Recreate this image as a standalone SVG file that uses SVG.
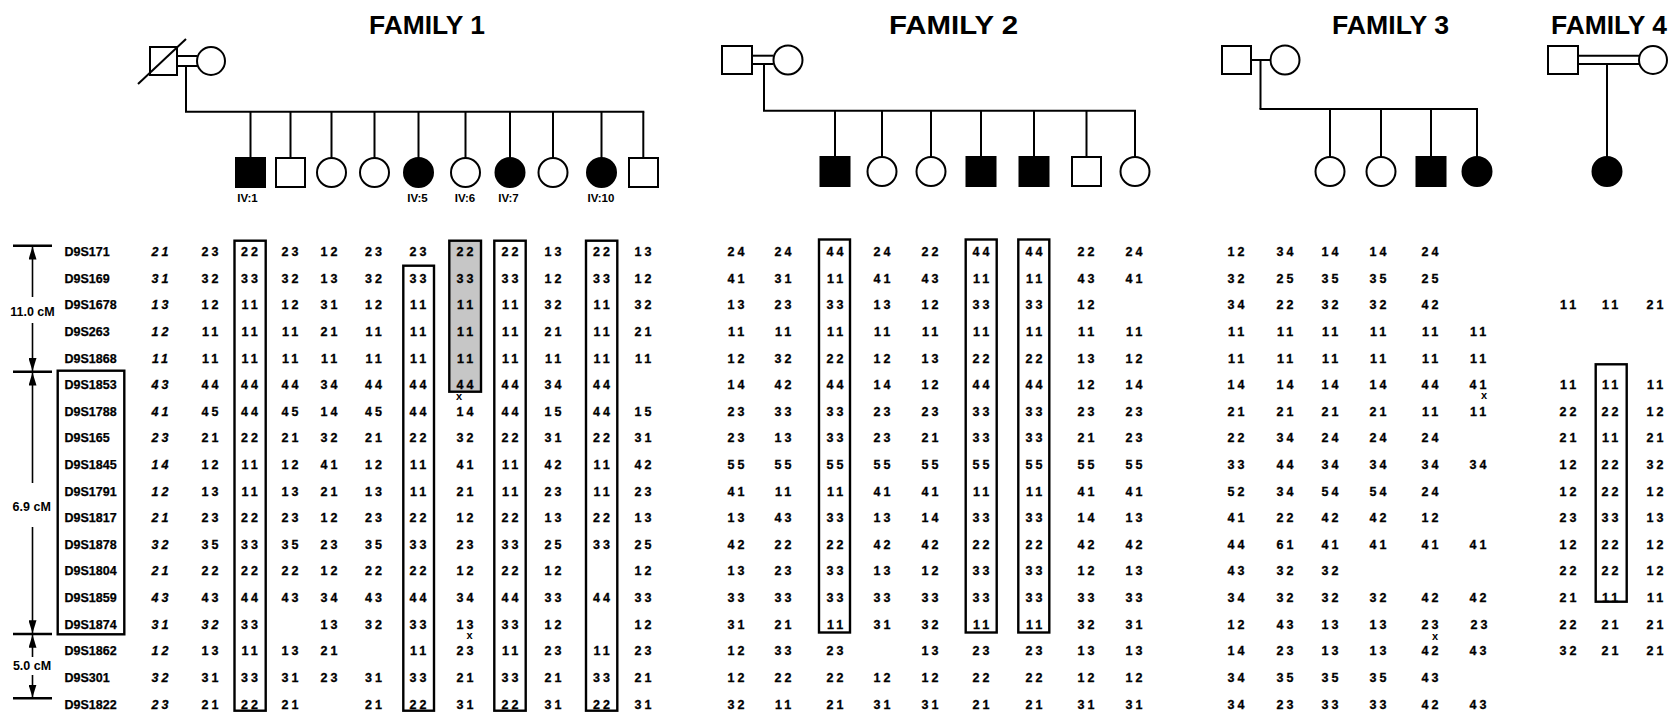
<svg xmlns="http://www.w3.org/2000/svg" width="1671" height="713" viewBox="0 0 1671 713">
<style>
.ln{stroke:#000;stroke-width:2;fill:none}
.sym{stroke:#000;stroke-width:2;fill:#fff}
.aff{stroke:#000;stroke-width:2;fill:#000}
.box{fill:none;stroke:#000;stroke-width:2.4}
.tick{stroke:#000;stroke-width:2.4}
.arw{stroke:#000;stroke-width:1.6;fill:none}
.t{font-family:"Liberation Sans",Arial,sans-serif;font-weight:bold;fill:#000}
.title{font-size:25px;white-space:pre}
.d{font-size:12.5px;letter-spacing:3px;text-anchor:middle;stroke:#000;stroke-width:0.3}
.lab{font-size:12.5px;stroke:#000;stroke-width:0.25}
.cm{font-size:12.5px;text-anchor:middle}
.iv{font-size:11.5px;text-anchor:middle}
.i{font-style:italic}
.x{font-size:11px;text-anchor:middle}
</style>
<defs>
<marker id="ah" viewBox="0 0 13 8" refX="13" refY="4" markerWidth="13" markerHeight="8" markerUnits="userSpaceOnUse" orient="auto">
<path d="M0,0 L13,4 L0,8 z" fill="#000"/>
</marker>
</defs>
<rect width="1671" height="713" fill="#fff"/>

<g id="titles" class="t title">
<text x="369" y="33.5" textLength="116" lengthAdjust="spacingAndGlyphs">FAMILY 1</text>
<text x="889" y="33.5" textLength="129" lengthAdjust="spacingAndGlyphs">FAMILY  2</text>
<text x="1332" y="33.5" textLength="117" lengthAdjust="spacingAndGlyphs">FAMILY 3</text>
<text x="1551" y="33.5" textLength="116" lengthAdjust="spacingAndGlyphs">FAMILY 4</text>
</g>

<g id="connectors" class="ln">
<line x1="177" y1="56" x2="197" y2="56"/>
<line x1="177" y1="66" x2="197" y2="66"/>
<line x1="186" y1="66" x2="186" y2="111.7"/>
<line x1="185" y1="111.7" x2="644.3" y2="111.7"/>
<line x1="250.5" y1="111.7" x2="250.5" y2="158"/>
<line x1="290.5" y1="111.7" x2="290.5" y2="158"/>
<line x1="331.5" y1="111.7" x2="331.5" y2="158"/>
<line x1="374.5" y1="111.7" x2="374.5" y2="158"/>
<line x1="418.5" y1="111.7" x2="418.5" y2="158"/>
<line x1="465.5" y1="111.7" x2="465.5" y2="158"/>
<line x1="510" y1="111.7" x2="510" y2="158"/>
<line x1="553" y1="111.7" x2="553" y2="158"/>
<line x1="601.5" y1="111.7" x2="601.5" y2="158"/>
<line x1="643.3" y1="111.7" x2="643.3" y2="158"/>
<line x1="752" y1="55.7" x2="773.5" y2="55.7"/>
<line x1="752" y1="64" x2="773.5" y2="64"/>
<line x1="764" y1="64" x2="764" y2="110.7"/>
<line x1="763" y1="110.7" x2="1136" y2="110.7"/>
<line x1="835" y1="110.7" x2="835" y2="157"/>
<line x1="882" y1="110.7" x2="882" y2="157"/>
<line x1="931" y1="110.7" x2="931" y2="157"/>
<line x1="981" y1="110.7" x2="981" y2="157"/>
<line x1="1034" y1="110.7" x2="1034" y2="157"/>
<line x1="1086.5" y1="110.7" x2="1086.5" y2="157"/>
<line x1="1135" y1="110.7" x2="1135" y2="157"/>
<line x1="1251" y1="60" x2="1270.5" y2="60"/>
<line x1="1260.5" y1="60" x2="1260.5" y2="109"/>
<line x1="1259.5" y1="109" x2="1478" y2="109"/>
<line x1="1330" y1="109" x2="1330" y2="157"/>
<line x1="1381" y1="109" x2="1381" y2="157"/>
<line x1="1431" y1="109" x2="1431" y2="157"/>
<line x1="1477" y1="109" x2="1477" y2="157"/>
<line x1="1578" y1="55.7" x2="1639" y2="55.7"/>
<line x1="1578" y1="64" x2="1639" y2="64"/>
<line x1="1607" y1="64" x2="1607" y2="157"/>
</g>

<g id="f1-father"><rect class="sym" x="150" y="47" width="27" height="28"/><line class="ln" x1="138" y1="84" x2="186" y2="39"/></g>
<g id="f1-mother"><circle class="sym" cx="211" cy="61" r="14"/></g>
<g id="f1-IV1"><rect class="aff" x="236" y="158" width="29" height="29"/><text class="t iv" x="247.5" y="201.5">IV:1</text></g>
<g id="f1-IV2"><rect class="sym" x="276" y="158" width="29" height="29"/></g>
<g id="f1-IV3"><circle class="sym" cx="331.5" cy="172.5" r="14.5"/></g>
<g id="f1-IV4"><circle class="sym" cx="374.5" cy="172.5" r="14.5"/></g>
<g id="f1-IV5"><circle class="aff" cx="418.5" cy="172.5" r="14.5"/><text class="t iv" x="417.5" y="201.5">IV:5</text></g>
<g id="f1-IV6"><circle class="sym" cx="465.5" cy="172.5" r="14.5"/><text class="t iv" x="465" y="201.5">IV:6</text></g>
<g id="f1-IV7"><circle class="aff" cx="510" cy="172.5" r="14.5"/><text class="t iv" x="508.5" y="201.5">IV:7</text></g>
<g id="f1-IV8"><circle class="sym" cx="553" cy="172.5" r="14.5"/></g>
<g id="f1-IV10"><circle class="aff" cx="601.5" cy="172.5" r="14.5"/><text class="t iv" x="601" y="201.5">IV:10</text></g>
<g id="f1-IV11"><rect class="sym" x="629" y="158" width="29" height="29"/></g>

<g id="f2-father"><rect class="sym" x="722" y="46" width="30" height="28"/></g>
<g id="f2-mother"><circle class="sym" cx="788" cy="60" r="14.5"/></g>
<g id="f2-c1"><rect class="aff" x="820.5" y="157" width="29" height="29"/></g>
<g id="f2-c2"><circle class="sym" cx="882" cy="171.5" r="14.5"/></g>
<g id="f2-c3"><circle class="sym" cx="931" cy="171.5" r="14.5"/></g>
<g id="f2-c4"><rect class="aff" x="966.5" y="157" width="29" height="29"/></g>
<g id="f2-c5"><rect class="aff" x="1019.5" y="157" width="29" height="29"/></g>
<g id="f2-c6"><rect class="sym" x="1072" y="157" width="29" height="29"/></g>
<g id="f2-c7"><circle class="sym" cx="1135" cy="171.5" r="14.5"/></g>

<g id="f3-father"><rect class="sym" x="1222" y="46" width="29" height="28"/></g>
<g id="f3-mother"><circle class="sym" cx="1285" cy="60" r="14.5"/></g>
<g id="f3-c1"><circle class="sym" cx="1330" cy="171.5" r="14.5"/></g>
<g id="f3-c2"><circle class="sym" cx="1381" cy="171.5" r="14.5"/></g>
<g id="f3-c3"><rect class="aff" x="1416.5" y="157" width="29" height="29"/></g>
<g id="f3-c4"><circle class="aff" cx="1477" cy="171.5" r="14.5"/></g>

<g id="f4-father"><rect class="sym" x="1548" y="46" width="30" height="28"/></g>
<g id="f4-mother"><circle class="sym" cx="1653" cy="60" r="14"/></g>
<g id="f4-c1"><circle class="aff" cx="1607" cy="171.5" r="14.5"/></g>

<g id="scale">
<line class="tick" x1="13" y1="245.7" x2="52" y2="245.7"/>
<line class="tick" x1="13" y1="371.7" x2="52" y2="371.7"/>
<line class="tick" x1="13" y1="634" x2="52" y2="634"/>
<line class="tick" x1="13" y1="698.3" x2="52" y2="698.3"/>
<line class="arw" x1="32.5" y1="297" x2="32.5" y2="246.5" marker-end="url(#ah)"/>
<line class="arw" x1="32.5" y1="323" x2="32.5" y2="371" marker-end="url(#ah)"/>
<line class="arw" x1="32.5" y1="483" x2="32.5" y2="372.5" marker-end="url(#ah)"/>
<line class="arw" x1="32.5" y1="527" x2="32.5" y2="633.3" marker-end="url(#ah)"/>
<line class="arw" x1="32.5" y1="657" x2="32.5" y2="634.8" marker-end="url(#ah)"/>
<line class="arw" x1="32.5" y1="675" x2="32.5" y2="697.5" marker-end="url(#ah)"/>
<text class="t cm" x="32.5" y="316">11.0 cM</text>
<text class="t cm" x="31.7" y="511">6.9 cM</text>
<text class="t cm" x="32" y="669.5">5.0 cM</text>
</g>

<g id="boxes">
<rect x="57.7" y="370.7" width="66.6" height="263.6" class="box"/>
<rect x="449.3" y="240.7" width="31.7" height="151" fill="#c6c6c6" stroke="#000" stroke-width="2.4"/>
<rect x="234.5" y="240.7" width="31.2" height="470" class="box"/>
<rect x="403.3" y="265.7" width="30.7" height="445" class="box"/>
<rect x="494.3" y="240.7" width="31.4" height="470" class="box"/>
<rect x="586" y="240.7" width="31.3" height="470" class="box"/>
<rect x="819" y="239.5" width="31" height="393" class="box"/>
<rect x="965.7" y="239.5" width="31" height="393" class="box"/>
<rect x="1018.3" y="239.5" width="31" height="393" class="box"/>
<rect x="1595.7" y="364.3" width="31" height="237.4" class="box"/>
</g>

<g id="markers" class="t lab">
<text x="64.5" y="256">D9S171</text>
<text x="64.5" y="282.6">D9S169</text>
<text x="64.5" y="309.2">D9S1678</text>
<text x="64.5" y="335.9">D9S263</text>
<text x="64.5" y="362.5">D9S1868</text>
<text x="64.5" y="389.1">D9S1853</text>
<text x="64.5" y="415.7">D9S1788</text>
<text x="64.5" y="442.3">D9S165</text>
<text x="64.5" y="469">D9S1845</text>
<text x="64.5" y="495.6">D9S1791</text>
<text x="64.5" y="522.2">D9S1817</text>
<text x="64.5" y="548.8">D9S1878</text>
<text x="64.5" y="575.4">D9S1804</text>
<text x="64.5" y="602.1">D9S1859</text>
<text x="64.5" y="628.7">D9S1874</text>
<text x="64.5" y="655.3">D9S1862</text>
<text x="64.5" y="681.9">D9S301</text>
<text x="64.5" y="708.5">D9S1822</text>
</g>

<g id="f1-data" class="t d" transform="translate(1.5,0)">
<text y="256"><tspan class="i" x="160">21</tspan><tspan x="210">23</tspan><tspan x="249.5">22</tspan><tspan x="290">23</tspan><tspan x="329">12</tspan><tspan x="373.5">23</tspan><tspan x="418">23</tspan><tspan x="465">22</tspan><tspan x="510">22</tspan><tspan x="553">13</tspan><tspan x="601.5">22</tspan><tspan x="643">13</tspan></text>
<text y="282.6"><tspan class="i" x="160">31</tspan><tspan x="210">32</tspan><tspan x="249.5">33</tspan><tspan x="290">32</tspan><tspan x="329">13</tspan><tspan x="373.5">32</tspan><tspan x="418">33</tspan><tspan x="465">33</tspan><tspan x="510">33</tspan><tspan x="553">12</tspan><tspan x="601.5">33</tspan><tspan x="643">12</tspan></text>
<text y="309.2"><tspan class="i" x="160">13</tspan><tspan x="210">12</tspan><tspan x="249.5">11</tspan><tspan x="290">12</tspan><tspan x="329">31</tspan><tspan x="373.5">12</tspan><tspan x="418">11</tspan><tspan x="465">11</tspan><tspan x="510">11</tspan><tspan x="553">32</tspan><tspan x="601.5">11</tspan><tspan x="643">32</tspan></text>
<text y="335.9"><tspan class="i" x="160">12</tspan><tspan x="210">11</tspan><tspan x="249.5">11</tspan><tspan x="290">11</tspan><tspan x="329">21</tspan><tspan x="373.5">11</tspan><tspan x="418">11</tspan><tspan x="465">11</tspan><tspan x="510">11</tspan><tspan x="553">21</tspan><tspan x="601.5">11</tspan><tspan x="643">21</tspan></text>
<text y="362.5"><tspan class="i" x="160">11</tspan><tspan x="210">11</tspan><tspan x="249.5">11</tspan><tspan x="290">11</tspan><tspan x="329">11</tspan><tspan x="373.5">11</tspan><tspan x="418">11</tspan><tspan x="465">11</tspan><tspan x="510">11</tspan><tspan x="553">11</tspan><tspan x="601.5">11</tspan><tspan x="643">11</tspan></text>
<text y="389.1"><tspan class="i" x="160">43</tspan><tspan x="210">44</tspan><tspan x="249.5">44</tspan><tspan x="290">44</tspan><tspan x="329">34</tspan><tspan x="373.5">44</tspan><tspan x="418">44</tspan><tspan x="465">44</tspan><tspan x="510">44</tspan><tspan x="553">34</tspan><tspan x="601.5">44</tspan></text>
<text y="415.7"><tspan class="i" x="160">41</tspan><tspan x="210">45</tspan><tspan x="249.5">44</tspan><tspan x="290">45</tspan><tspan x="329">14</tspan><tspan x="373.5">45</tspan><tspan x="418">44</tspan><tspan x="465">14</tspan><tspan x="510">44</tspan><tspan x="553">15</tspan><tspan x="601.5">44</tspan><tspan x="643">15</tspan></text>
<text y="442.3"><tspan class="i" x="160">23</tspan><tspan x="210">21</tspan><tspan x="249.5">22</tspan><tspan x="290">21</tspan><tspan x="329">32</tspan><tspan x="373.5">21</tspan><tspan x="418">22</tspan><tspan x="465">32</tspan><tspan x="510">22</tspan><tspan x="553">31</tspan><tspan x="601.5">22</tspan><tspan x="643">31</tspan></text>
<text y="469"><tspan class="i" x="160">14</tspan><tspan x="210">12</tspan><tspan x="249.5">11</tspan><tspan x="290">12</tspan><tspan x="329">41</tspan><tspan x="373.5">12</tspan><tspan x="418">11</tspan><tspan x="465">41</tspan><tspan x="510">11</tspan><tspan x="553">42</tspan><tspan x="601.5">11</tspan><tspan x="643">42</tspan></text>
<text y="495.6"><tspan class="i" x="160">12</tspan><tspan x="210">13</tspan><tspan x="249.5">11</tspan><tspan x="290">13</tspan><tspan x="329">21</tspan><tspan x="373.5">13</tspan><tspan x="418">11</tspan><tspan x="465">21</tspan><tspan x="510">11</tspan><tspan x="553">23</tspan><tspan x="601.5">11</tspan><tspan x="643">23</tspan></text>
<text y="522.2"><tspan class="i" x="160">21</tspan><tspan x="210">23</tspan><tspan x="249.5">22</tspan><tspan x="290">23</tspan><tspan x="329">12</tspan><tspan x="373.5">23</tspan><tspan x="418">22</tspan><tspan x="465">12</tspan><tspan x="510">22</tspan><tspan x="553">13</tspan><tspan x="601.5">22</tspan><tspan x="643">13</tspan></text>
<text y="548.8"><tspan class="i" x="160">32</tspan><tspan x="210">35</tspan><tspan x="249.5">33</tspan><tspan x="290">35</tspan><tspan x="329">23</tspan><tspan x="373.5">35</tspan><tspan x="418">33</tspan><tspan x="465">23</tspan><tspan x="510">33</tspan><tspan x="553">25</tspan><tspan x="601.5">33</tspan><tspan x="643">25</tspan></text>
<text y="575.4"><tspan class="i" x="160">21</tspan><tspan x="210">22</tspan><tspan x="249.5">22</tspan><tspan x="290">22</tspan><tspan x="329">12</tspan><tspan x="373.5">22</tspan><tspan x="418">22</tspan><tspan x="465">12</tspan><tspan x="510">22</tspan><tspan x="553">12</tspan><tspan x="643">12</tspan></text>
<text y="602.1"><tspan class="i" x="160">43</tspan><tspan x="210">43</tspan><tspan x="249.5">44</tspan><tspan x="290">43</tspan><tspan x="329">34</tspan><tspan x="373.5">43</tspan><tspan x="418">44</tspan><tspan x="465">34</tspan><tspan x="510">44</tspan><tspan x="553">33</tspan><tspan x="601.5">44</tspan><tspan x="643">33</tspan></text>
<text y="628.7"><tspan class="i" x="160">31</tspan><tspan class="i" x="210">32</tspan><tspan x="249.5">33</tspan><tspan x="329">13</tspan><tspan x="373.5">32</tspan><tspan x="418">33</tspan><tspan x="465">13</tspan><tspan x="510">33</tspan><tspan x="553">12</tspan><tspan x="643">12</tspan></text>
<text y="655.3"><tspan class="i" x="160">12</tspan><tspan x="210">13</tspan><tspan x="249.5">11</tspan><tspan x="290">13</tspan><tspan x="329">21</tspan><tspan x="418">11</tspan><tspan x="465">23</tspan><tspan x="510">11</tspan><tspan x="553">23</tspan><tspan x="601.5">11</tspan><tspan x="643">23</tspan></text>
<text y="681.9"><tspan class="i" x="160">32</tspan><tspan x="210">31</tspan><tspan x="249.5">33</tspan><tspan x="290">31</tspan><tspan x="329">23</tspan><tspan x="373.5">31</tspan><tspan x="418">33</tspan><tspan x="465">21</tspan><tspan x="510">33</tspan><tspan x="553">21</tspan><tspan x="601.5">33</tspan><tspan x="643">21</tspan></text>
<text y="708.5"><tspan class="i" x="160">23</tspan><tspan x="210">21</tspan><tspan x="249.5">22</tspan><tspan x="290">21</tspan><tspan x="373.5">21</tspan><tspan x="418">22</tspan><tspan x="465">31</tspan><tspan x="510">22</tspan><tspan x="553">31</tspan><tspan x="601.5">22</tspan><tspan x="643">31</tspan></text>
</g>

<g id="f2-data" class="t d" transform="translate(1.5,0)">
<text y="256"><tspan x="736">24</tspan><tspan x="783">24</tspan><tspan x="835">44</tspan><tspan x="882">24</tspan><tspan x="930">22</tspan><tspan x="981">44</tspan><tspan x="1034">44</tspan><tspan x="1086">22</tspan><tspan x="1134">24</tspan></text>
<text y="282.6"><tspan x="736">41</tspan><tspan x="783">31</tspan><tspan x="835">11</tspan><tspan x="882">41</tspan><tspan x="930">43</tspan><tspan x="981">11</tspan><tspan x="1034">11</tspan><tspan x="1086">43</tspan><tspan x="1134">41</tspan></text>
<text y="309.2"><tspan x="736">13</tspan><tspan x="783">23</tspan><tspan x="835">33</tspan><tspan x="882">13</tspan><tspan x="930">12</tspan><tspan x="981">33</tspan><tspan x="1034">33</tspan><tspan x="1086">12</tspan></text>
<text y="335.9"><tspan x="736">11</tspan><tspan x="783">11</tspan><tspan x="835">11</tspan><tspan x="882">11</tspan><tspan x="930">11</tspan><tspan x="981">11</tspan><tspan x="1034">11</tspan><tspan x="1086">11</tspan><tspan x="1134">11</tspan></text>
<text y="362.5"><tspan x="736">12</tspan><tspan x="783">32</tspan><tspan x="835">22</tspan><tspan x="882">12</tspan><tspan x="930">13</tspan><tspan x="981">22</tspan><tspan x="1034">22</tspan><tspan x="1086">13</tspan><tspan x="1134">12</tspan></text>
<text y="389.1"><tspan x="736">14</tspan><tspan x="783">42</tspan><tspan x="835">44</tspan><tspan x="882">14</tspan><tspan x="930">12</tspan><tspan x="981">44</tspan><tspan x="1034">44</tspan><tspan x="1086">12</tspan><tspan x="1134">14</tspan></text>
<text y="415.7"><tspan x="736">23</tspan><tspan x="783">33</tspan><tspan x="835">33</tspan><tspan x="882">23</tspan><tspan x="930">23</tspan><tspan x="981">33</tspan><tspan x="1034">33</tspan><tspan x="1086">23</tspan><tspan x="1134">23</tspan></text>
<text y="442.3"><tspan x="736">23</tspan><tspan x="783">13</tspan><tspan x="835">33</tspan><tspan x="882">23</tspan><tspan x="930">21</tspan><tspan x="981">33</tspan><tspan x="1034">33</tspan><tspan x="1086">21</tspan><tspan x="1134">23</tspan></text>
<text y="469"><tspan x="736">55</tspan><tspan x="783">55</tspan><tspan x="835">55</tspan><tspan x="882">55</tspan><tspan x="930">55</tspan><tspan x="981">55</tspan><tspan x="1034">55</tspan><tspan x="1086">55</tspan><tspan x="1134">55</tspan></text>
<text y="495.6"><tspan x="736">41</tspan><tspan x="783">11</tspan><tspan x="835">11</tspan><tspan x="882">41</tspan><tspan x="930">41</tspan><tspan x="981">11</tspan><tspan x="1034">11</tspan><tspan x="1086">41</tspan><tspan x="1134">41</tspan></text>
<text y="522.2"><tspan x="736">13</tspan><tspan x="783">43</tspan><tspan x="835">33</tspan><tspan x="882">13</tspan><tspan x="930">14</tspan><tspan x="981">33</tspan><tspan x="1034">33</tspan><tspan x="1086">14</tspan><tspan x="1134">13</tspan></text>
<text y="548.8"><tspan x="736">42</tspan><tspan x="783">22</tspan><tspan x="835">22</tspan><tspan x="882">42</tspan><tspan x="930">42</tspan><tspan x="981">22</tspan><tspan x="1034">22</tspan><tspan x="1086">42</tspan><tspan x="1134">42</tspan></text>
<text y="575.4"><tspan x="736">13</tspan><tspan x="783">23</tspan><tspan x="835">33</tspan><tspan x="882">13</tspan><tspan x="930">12</tspan><tspan x="981">33</tspan><tspan x="1034">33</tspan><tspan x="1086">12</tspan><tspan x="1134">13</tspan></text>
<text y="602.1"><tspan x="736">33</tspan><tspan x="783">33</tspan><tspan x="835">33</tspan><tspan x="882">33</tspan><tspan x="930">33</tspan><tspan x="981">33</tspan><tspan x="1034">33</tspan><tspan x="1086">33</tspan><tspan x="1134">33</tspan></text>
<text y="628.7"><tspan x="736">31</tspan><tspan x="783">21</tspan><tspan x="835">11</tspan><tspan x="882">31</tspan><tspan x="930">32</tspan><tspan x="981">11</tspan><tspan x="1034">11</tspan><tspan x="1086">32</tspan><tspan x="1134">31</tspan></text>
<text y="655.3"><tspan x="736">12</tspan><tspan x="783">33</tspan><tspan x="835">23</tspan><tspan x="930">13</tspan><tspan x="981">23</tspan><tspan x="1034">23</tspan><tspan x="1086">13</tspan><tspan x="1134">13</tspan></text>
<text y="681.9"><tspan x="736">12</tspan><tspan x="783">22</tspan><tspan x="835">22</tspan><tspan x="882">12</tspan><tspan x="930">12</tspan><tspan x="981">22</tspan><tspan x="1034">22</tspan><tspan x="1086">12</tspan><tspan x="1134">12</tspan></text>
<text y="708.5"><tspan x="736">32</tspan><tspan x="783">11</tspan><tspan x="835">21</tspan><tspan x="882">31</tspan><tspan x="930">31</tspan><tspan x="981">21</tspan><tspan x="1034">21</tspan><tspan x="1086">31</tspan><tspan x="1134">31</tspan></text>
</g>

<g id="f3-data" class="t d" transform="translate(1.5,0)">
<text y="256"><tspan x="1236">12</tspan><tspan x="1285">34</tspan><tspan x="1330">14</tspan><tspan x="1378">14</tspan><tspan x="1430">24</tspan></text>
<text y="282.6"><tspan x="1236">32</tspan><tspan x="1285">25</tspan><tspan x="1330">35</tspan><tspan x="1378">35</tspan><tspan x="1430">25</tspan></text>
<text y="309.2"><tspan x="1236">34</tspan><tspan x="1285">22</tspan><tspan x="1330">32</tspan><tspan x="1378">32</tspan><tspan x="1430">42</tspan></text>
<text y="335.9"><tspan x="1236">11</tspan><tspan x="1285">11</tspan><tspan x="1330">11</tspan><tspan x="1378">11</tspan><tspan x="1430">11</tspan><tspan x="1478">11</tspan></text>
<text y="362.5"><tspan x="1236">11</tspan><tspan x="1285">11</tspan><tspan x="1330">11</tspan><tspan x="1378">11</tspan><tspan x="1430">11</tspan><tspan x="1478">11</tspan></text>
<text y="389.1"><tspan x="1236">14</tspan><tspan x="1285">14</tspan><tspan x="1330">14</tspan><tspan x="1378">14</tspan><tspan x="1430">44</tspan><tspan x="1478">41</tspan></text>
<text y="415.7"><tspan x="1236">21</tspan><tspan x="1285">21</tspan><tspan x="1330">21</tspan><tspan x="1378">21</tspan><tspan x="1430">11</tspan><tspan x="1478">11</tspan></text>
<text y="442.3"><tspan x="1236">22</tspan><tspan x="1285">34</tspan><tspan x="1330">24</tspan><tspan x="1378">24</tspan><tspan x="1430">24</tspan></text>
<text y="469"><tspan x="1236">33</tspan><tspan x="1285">44</tspan><tspan x="1330">34</tspan><tspan x="1378">34</tspan><tspan x="1430">34</tspan><tspan x="1478">34</tspan></text>
<text y="495.6"><tspan x="1236">52</tspan><tspan x="1285">34</tspan><tspan x="1330">54</tspan><tspan x="1378">54</tspan><tspan x="1430">24</tspan></text>
<text y="522.2"><tspan x="1236">41</tspan><tspan x="1285">22</tspan><tspan x="1330">42</tspan><tspan x="1378">42</tspan><tspan x="1430">12</tspan></text>
<text y="548.8"><tspan x="1236">44</tspan><tspan x="1285">61</tspan><tspan x="1330">41</tspan><tspan x="1378">41</tspan><tspan x="1430">41</tspan><tspan x="1478">41</tspan></text>
<text y="575.4"><tspan x="1236">43</tspan><tspan x="1285">32</tspan><tspan x="1330">32</tspan></text>
<text y="602.1"><tspan x="1236">34</tspan><tspan x="1285">32</tspan><tspan x="1330">32</tspan><tspan x="1378">32</tspan><tspan x="1430">42</tspan><tspan x="1478">42</tspan></text>
<text y="628.7"><tspan x="1236">12</tspan><tspan x="1285">43</tspan><tspan x="1330">13</tspan><tspan x="1378">13</tspan><tspan x="1430">23</tspan><tspan x="1479">23</tspan></text>
<text y="655.3"><tspan x="1236">14</tspan><tspan x="1285">23</tspan><tspan x="1330">13</tspan><tspan x="1378">13</tspan><tspan x="1430">42</tspan><tspan x="1478">43</tspan></text>
<text y="681.9"><tspan x="1236">34</tspan><tspan x="1285">35</tspan><tspan x="1330">35</tspan><tspan x="1378">35</tspan><tspan x="1430">43</tspan></text>
<text y="708.5"><tspan x="1236">34</tspan><tspan x="1285">23</tspan><tspan x="1330">33</tspan><tspan x="1378">33</tspan><tspan x="1430">42</tspan><tspan x="1478">43</tspan></text>
</g>

<g id="f4-data" class="t d" transform="translate(1.5,0)">
<text y="309.2"><tspan x="1568">11</tspan><tspan x="1610">11</tspan><tspan x="1655">21</tspan></text>
<text y="389.1"><tspan x="1568">11</tspan><tspan x="1610">11</tspan><tspan x="1655">11</tspan></text>
<text y="415.7"><tspan x="1568">22</tspan><tspan x="1610">22</tspan><tspan x="1655">12</tspan></text>
<text y="442.3"><tspan x="1568">21</tspan><tspan x="1610">11</tspan><tspan x="1655">21</tspan></text>
<text y="469"><tspan x="1568">12</tspan><tspan x="1610">22</tspan><tspan x="1655">32</tspan></text>
<text y="495.6"><tspan x="1568">12</tspan><tspan x="1610">22</tspan><tspan x="1655">12</tspan></text>
<text y="522.2"><tspan x="1568">23</tspan><tspan x="1610">33</tspan><tspan x="1655">13</tspan></text>
<text y="548.8"><tspan x="1568">12</tspan><tspan x="1610">22</tspan><tspan x="1655">12</tspan></text>
<text y="575.4"><tspan x="1568">22</tspan><tspan x="1610">22</tspan><tspan x="1655">12</tspan></text>
<text y="602.1"><tspan x="1568">21</tspan><tspan x="1610">11</tspan><tspan x="1655">11</tspan></text>
<text y="628.7"><tspan x="1568">22</tspan><tspan x="1610">21</tspan><tspan x="1655">21</tspan></text>
<text y="655.3"><tspan x="1568">32</tspan><tspan x="1610">21</tspan><tspan x="1655">21</tspan></text>
</g>

<g id="recomb" class="t x">
<text x="459" y="400">x</text>
<text x="469.5" y="639">x</text>
<text x="1484" y="399">x</text>
<text x="1435" y="639.5">x</text>
</g>
</svg>
